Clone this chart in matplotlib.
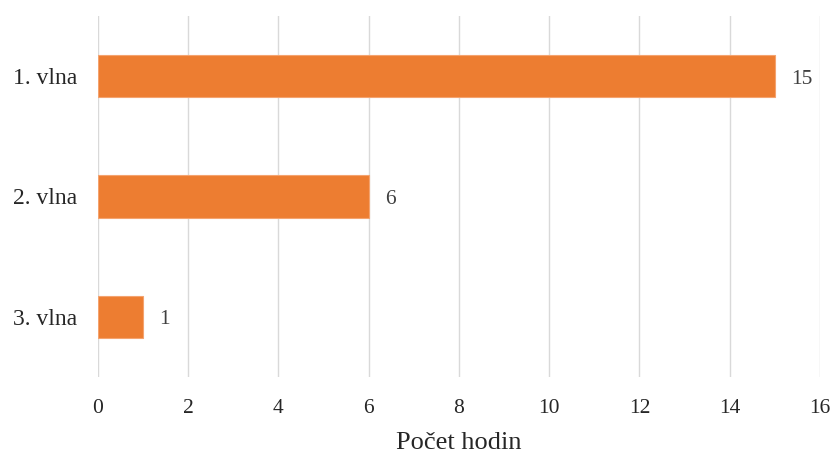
import matplotlib.pyplot as plt

categories = ['1. vlna', '2. vlna', '3. vlna']
hours = [15, 6, 1]
xticks = list(range(0, 17, 2))

plt.rcParams['font.family'] = ['Liberation Serif', 'DejaVu Serif']

fig = plt.figure(figsize=(8.34, 4.53), dpi=100)
ax = fig.add_axes([0.1175, 0.1678, 0.8657, 0.7969])

pos = list(range(len(categories)))
bars = ax.barh(pos, hours, height=0.35, color='#ED7D31', edgecolor='#F4A36F', linewidth=0.8, zorder=3)

# hodnoty vedle sloupcu
for b, v in zip(bars, hours):
    ax.annotate(str(v), (b.get_width(), b.get_y() + b.get_height() / 2),
                xytext=(16, -3), textcoords='offset pixels',
                va='center', ha='left', fontsize=15.5, color='#404040')

ax.set_ylim(len(categories) - 0.5, -0.5)
ax.set_yticks(pos)
ax.set_yticklabels(categories, fontsize=17, color='#262626')
ax.set_xlim(0, 16)
ax.set_xticks(xticks)
ax.set_xticklabels([str(t) for t in xticks], fontsize=15.5, color='#262626')
ax.set_xlabel('Počet hodin', fontsize=19, color='#262626', labelpad=10)

ax.grid(axis='x', color='#D9D9D9', linewidth=1, zorder=0)
for s in ax.spines.values():
    s.set_visible(False)
ax.tick_params(axis='x', length=0, pad=16)
ax.tick_params(axis='y', length=0, pad=15)

fig.savefig('out.png', dpi=100)
